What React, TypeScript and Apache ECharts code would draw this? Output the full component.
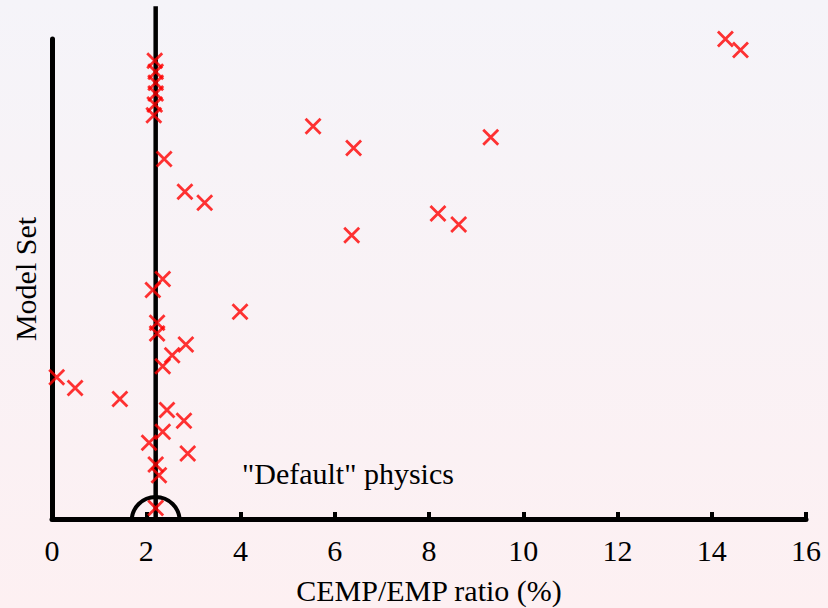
import React, { useEffect, useRef } from "react";
import * as echarts from "echarts";

// CEMP/EMP ratio (%) per model set
const modelSet = [
  1, 4, 5, 6, 7, 8, 9, 10, 11, 12, 13, 14, 15, 16, 17, 18, 19, 21, 22,
  26, 27, 28, 29, 30, 33, 34, 35, 36, 37, 38, 39, 40, 41, 42, 43, 44,
];
const ratio = [
  2.2, 2.27, 2.2, 2.88, 2.06, 2.35, 2.8, 2.44, 1.44, 0.49, 0.1, 2.35, 2.55, 2.84, 2.23, 2.23, 3.99, 2.14, 2.35,
  6.36, 8.63, 8.19, 3.24, 2.82, 2.38, 6.4, 9.31, 5.54, 2.16, 2.18, 2.2, 2.2, 2.2, 2.18, 14.61, 14.29,
];
const defaultRatio = 2.2;
const defaultLineTop = 47;
const xTicks = [0, 2, 4, 6, 8, 10, 12, 14, 16];
const xTitle = "CEMP/EMP ratio (%)";
const yTitle = "Model Set";
const defaultLabel = '"Default" physics';

const FONT = "'Liberation Serif', 'Times New Roman', serif";

export default function App() {
  const ref = useRef<HTMLDivElement>(null);
  useEffect(() => {
    if (!ref.current) return;
    const chart = echarts.init(ref.current, null, { renderer: "svg" });
    const points = modelSet.map((m, i) => [ratio[i], m]);
    chart.setOption({
      animation: false,
      backgroundColor: new echarts.graphic.LinearGradient(0, 0, 0, 1, [
        { offset: 0, color: "#f5f4f9" },
        { offset: 1, color: "#fdf0f2" },
      ]),
      grid: {
        left: 52,
        top: 39,
        width: 754,
        height: 480,
        containLabel: false,
        outerBoundsMode: "none",
      },
      xAxis: {
        type: "value",
        min: xTicks[0],
        max: xTicks[xTicks.length - 1],
        interval: 2,
        name: xTitle,
        nameLocation: "middle",
        nameGap: 56,
        nameTextStyle: { fontFamily: FONT, fontSize: 30, color: "#000", lineHeight: 30 },
        axisLine: { show: true, onZero: false, lineStyle: { color: "#000", width: 5 } },
        axisTick: { show: true, inside: true, length: 7, lineStyle: { color: "#000", width: 4 } },
        axisLabel: { fontFamily: FONT, fontSize: 30, color: "#000", margin: 16 },
        splitLine: { show: false },
      },
      yAxis: {
        type: "value",
        min: 0,
        max: 44,
        name: yTitle,
        nameLocation: "middle",
        nameGap: 12,
        nameRotate: 90,
        nameTextStyle: { fontFamily: FONT, fontSize: 30, color: "#000" },
        axisLine: { show: true, onZero: false, lineStyle: { color: "#000", width: 5 } },
        axisTick: { show: false },
        axisLabel: { show: false },
        splitLine: { show: false },
      },
      graphic: [
        {
          type: "text",
          left: 242,
          top: 458,
          style: { text: defaultLabel, font: `30px ${FONT}`, fill: "#000" },
        },
      ],
      series: [
        {
          type: "custom",
          clip: false,
          z: 1,
          data: [[defaultRatio, 0]],
          renderItem: (params: any, api: any) => {
            const p = api.coord([api.value(0), api.value(1)]);
            const t = api.coord([api.value(0), defaultLineTop]);
            return {
              type: "group",
              children: [
                {
                  type: "line",
                  shape: { x1: p[0], y1: p[1], x2: t[0], y2: t[1] },
                  style: { stroke: "#000", lineWidth: 4.5 },
                },
                {
                  type: "arc",
                  shape: { cx: p[0], cy: p[1] + 2, r: 24, startAngle: Math.PI, endAngle: 2 * Math.PI },
                  style: { stroke: "#000", lineWidth: 4, fill: null },
                },
              ],
            };
          },
        },
        {
          type: "scatter",
          z: 3,
          symbol: "path://M0,0L10,10M10,0L0,10",
          symbolSize: 15,
          itemStyle: { color: "#ff0000", borderColor: "#ff0000", borderWidth: 2.8 },
          data: points,
        },
      ],
    });
    return () => chart.dispose();
  }, []);
  return (
    <div
      ref={ref}
      style={{ position: "absolute", left: 0, top: 0, width: 828, height: 608 }}
    />
  );
}
